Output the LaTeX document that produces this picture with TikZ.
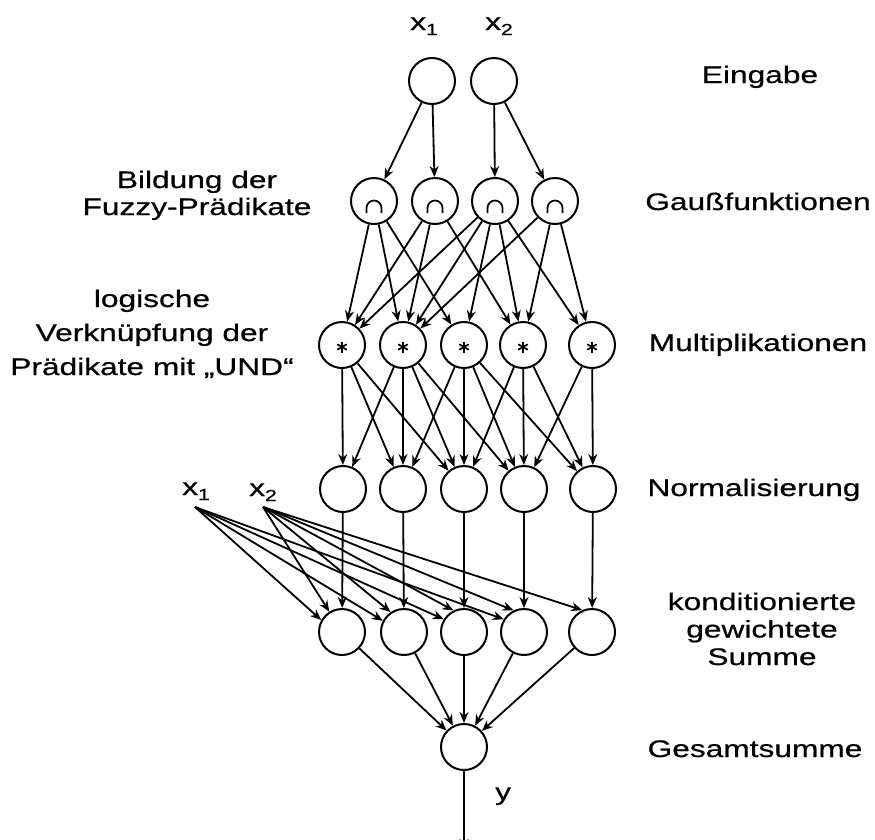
\documentclass[tikz,border=0pt]{standalone}
\usepackage{fontspec}
\setmainfont{Liberation Sans}[FakeStretch=1.32,FakeBold=0.6]
\usetikzlibrary{arrows.meta}
\begin{document}
\begin{tikzpicture}[x=1pt,y=-1pt,
  neuron/.style={circle,draw,line width=2pt,minimum size=46pt,inner sep=0pt},
  gauss/.style={neuron,path picture={\draw[line width=1.7pt]
     ([xshift=-7.5pt,yshift=-12pt]path picture bounding box.center) -- ++(0,5pt)
     arc[start angle=180,end angle=0,radius=7.5pt] -- ++(0,-5pt);}},
  mult/.style={neuron,path picture={\foreach \a in {90,30,150}{\draw[line width=1.7pt]
     ([yshift=-2pt]path picture bounding box.center) ++(\a:5.5pt) -- ++(\a+180:11pt);}}},
  conn/.style={line width=1.8pt,-{Stealth[length=11pt,width=9pt]}},
  lbl/.style={font=\fontsize{24}{27}\selectfont,inner sep=0pt,align=center},
  ]
\useasboundingbox (0,0) rectangle (875,839);

% input layer
\node[neuron] (I1) at (432,81) {};
\node[neuron] (I2) at (494,81) {};
\node[lbl,anchor=base west] (lx1) at (410,30) {x\raisebox{-5pt}{\fontsize{16}{16}\selectfont 1}};
\node[lbl,anchor=base west] (lx2) at (485,30) {x\raisebox{-5pt}{\fontsize{16}{16}\selectfont 2}};

% gauss layer
\node[gauss] (G1) at (374,201) {};
\node[gauss] (G2) at (435,201) {};
\node[gauss] (G3) at (495,201) {};
\node[gauss] (G4) at (555,201) {};

% multiplication layer
\node[mult] (M1) at (342,345) {};
\node[mult] (M2) at (403,345) {};
\node[mult] (M3) at (464,345) {};
\node[mult] (M4) at (523,345) {};
\node[mult] (M5) at (592,345) {};

% normalisation layer
\node[neuron] (N1) at (343,489) {};
\node[neuron] (N2) at (403,489) {};
\node[neuron] (N3) at (464,489) {};
\node[neuron] (N4) at (524,489) {};
\node[neuron] (N5) at (593,489) {};

% conditioned weighted sum
\node[neuron] (S1) at (342,632) {};
\node[neuron] (S2) at (404,632) {};
\node[neuron] (S3) at (464,632) {};
\node[neuron] (S4) at (524,632) {};
\node[neuron] (S5) at (592,632) {};

% total sum
\node[neuron] (F) at (464,747) {};
\coordinate (out) at (464,850);

% fan inputs
\node[lbl,anchor=base west] (bx1) at (182,495) {x\raisebox{-5pt}{\fontsize{16}{16}\selectfont 1}};
\node[lbl,anchor=base west] (bx2) at (249,496) {x\raisebox{-5pt}{\fontsize{16}{16}\selectfont 2}};
\coordinate (fx1) at (195,507);
\coordinate (fx2) at (263,507);

% connections
\foreach \a/\b in {I1/G1,I1/G2,I2/G3,I2/G4}
  \draw[conn] (\a) -- (\b);
\foreach \a/\b in {G1/M1,G1/M2,G1/M3,G2/M1,G2/M2,G2/M4,G3/M1,G3/M2,G3/M3,G3/M4,G3/M5,G4/M2,G4/M4,G4/M5}
  \draw[conn] (\a) -- (\b);
\foreach \a/\b in {M1/N1,M1/N2,M1/N3,M2/N1,M2/N2,M2/N3,M2/N4,M3/N2,M3/N3,M3/N4,M3/N5,M4/N3,M4/N4,M4/N5,M5/N4,M5/N5}
  \draw[conn] (\a) -- (\b);
\foreach \i in {1,...,5}
  \draw[conn] (N\i) -- (S\i);
\foreach \i/\an in {1/150,2/152,3/148,4/148}
  \draw[conn] (fx1) -- (S\i.\an);
\foreach \i/\an in {1/122,2/124,3/116,4/116,5/114}
  \draw[conn] (fx2) -- (S\i.\an);
\foreach \i in {1,...,5}
  \draw[conn] (S\i) -- (F);
\draw[conn] (F) -- (out);
\node[lbl,anchor=base west] (ly) at (495,800) {y};

% layer labels (base = baseline of the last line)
\node[lbl,anchor=base] (tEin) at (760,83) {Eingabe};
\node[lbl,anchor=base] (tGau) at (758,210) {Gaußfunktionen};
\node[lbl,anchor=base] (tMul) at (758,351) {Multiplikationen};
\node[lbl,anchor=base] (tNor) at (754,496) {Normalisierung};
\node[lbl,anchor=base,font=\fontsize{24}{27.5}\selectfont] (tKon) at (762,665) {konditionierte\\gewichtete\\Summe};
\node[lbl,anchor=base] (tGes) at (755,757) {Gesamtsumme};
\node[lbl,anchor=base,font=\fontsize{24}{27}\selectfont] (tBil) at (197,215) {Bildung der\\Fuzzy-Prädikate};
\node[lbl,anchor=base,font=\fontsize{24}{34}\selectfont] (tLog) at (152,375) {logische\\Verknüpfung der\\Prädikate mit „UND“};
\end{tikzpicture}
\end{document}
